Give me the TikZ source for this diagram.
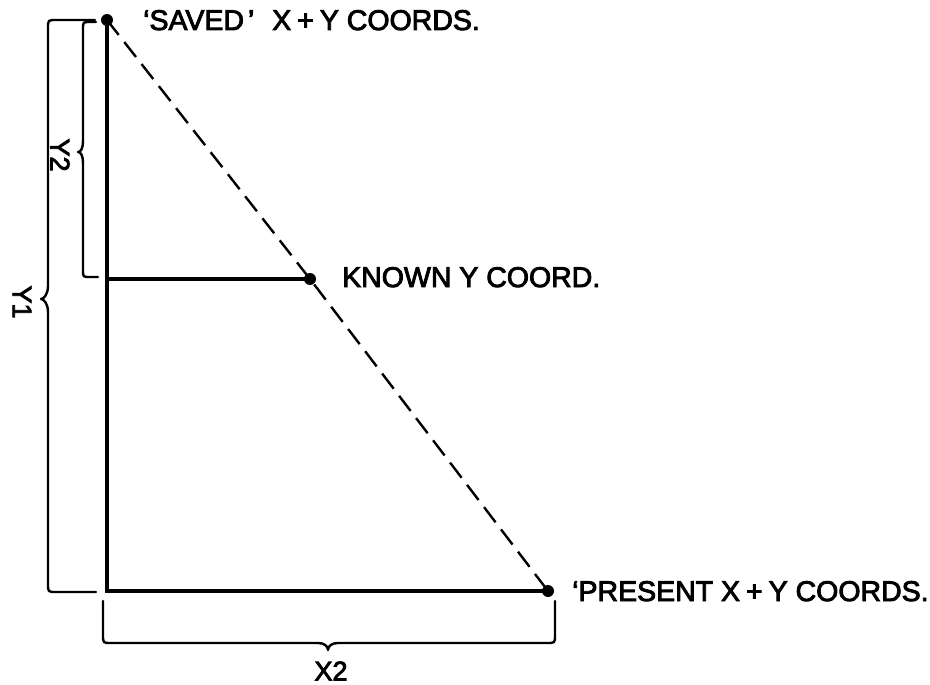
\documentclass[tikz,border=0pt]{standalone}
\usepackage{fontspec}
\setmainfont{Liberation Sans}
\newfontfamily\lblfont{Liberation Sans}[FakeBold=3]
\begin{document}
\begin{tikzpicture}[x=1pt,y=-1pt,
  thickline/.style={line width=4pt},
  dashline/.style={line width=2.4pt, dash pattern=on 19pt off 9pt},
  bracel/.style={line width=2.4pt, line cap=round, line join=round},
  dot/.style={circle, fill=black, inner sep=0pt, minimum size=12pt},
  lbl/.style={font=\lblfont\fontsize{28.5}{32}\selectfont, inner sep=0pt, anchor=base west},
  dim/.style={font=\lblfont\fontsize{27}{30}\selectfont, inner sep=0pt}]
\useasboundingbox (0,0) rectangle (930,685);
% points
\node[dot] (S) at (107,20) {};
\node[dot] (K) at (310,279) {};
\node[dot] (P) at (548,591) {};
\coordinate (O) at (107,591);
\coordinate (KL) at (107,279);
% lines
\draw[thickline] (S.center) -- (O) -- (P.center);
\draw[thickline] (KL) -- (K.center);
\draw[dashline] (S.center) -- (K.center) -- (P.center);
% texts
\node[lbl] (tS) at (143,30) {‘SAVED\hspace{4pt}’\hspace{10pt} X\hspace{6pt}+\hspace{6pt}Y COORDS.};
\node[lbl] (tK) at (342,287) {KNOWN Y COORD.};
\node[lbl] (tP) at (572,601) {‘PRESENT X\hspace{6pt}+\hspace{6pt}Y COORDS.};
% Y1 brace
\draw[bracel] (95,20) -- (56,20) .. controls (48,20) .. (48,28) -- (48,286)
  .. controls (48,294) and (44,299) .. (41,299)
  .. controls (44,299) and (48,304) .. (48,312) -- (48,584)
  .. controls (48,592) .. (56,592) -- (96,592);
% Y2 brace
\draw[bracel] (96,22) -- (90,22) .. controls (83,22) .. (83,29) -- (83,141)
  .. controls (83,148) and (81,152) .. (78,152)
  .. controls (81,152) and (83,156) .. (83,163) -- (83,270)
  .. controls (83,277) .. (90,277) -- (98,277);
% X2 brace
\draw[bracel] (103,601) -- (103,635) .. controls (103,643) .. (111,643) -- (318,643)
  .. controls (324,643) and (328,646) .. (328,650)
  .. controls (328,646) and (332,643) .. (338,643) -- (547,643)
  .. controls (555,643) .. (555,635) -- (555,601);
% dimension labels
\node[dim, rotate=-90] (lY2) at (60,155) {Y2};
\node[dim, rotate=-90] (lY1) at (22,302) {Y1};
\node[dim] (lX2) at (331,671) {X2};
\end{tikzpicture}
\end{document}
